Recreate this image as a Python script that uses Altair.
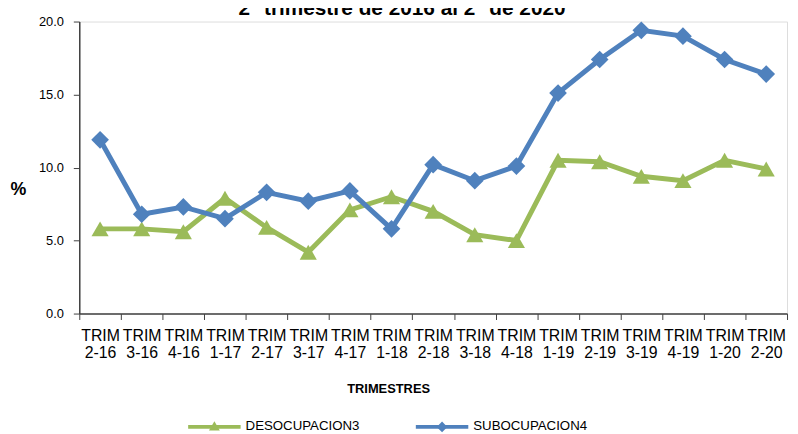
import altair as alt
import pandas as pd

categories = ["TRIM 2-16", "TRIM 3-16", "TRIM 4-16", "TRIM 1-17", "TRIM 2-17", "TRIM 3-17",
              "TRIM 4-17", "TRIM 1-18", "TRIM 2-18", "TRIM 3-18", "TRIM 4-18", "TRIM 1-19",
              "TRIM 2-19", "TRIM 3-19", "TRIM 4-19", "TRIM 1-20", "TRIM 2-20"]
desocupacion = [5.8, 5.8, 5.6, 7.9, 5.9, 4.2, 7.1, 8.0, 7.0, 5.4, 5.0, 10.5, 10.4, 9.4, 9.1, 10.5, 9.9]
subocupacion = [11.9, 6.8, 7.3, 6.5, 8.3, 7.7, 8.4, 5.8, 10.2, 9.1, 10.1, 15.1, 17.4, 19.4, 19.0, 17.4, 16.4]
series_names = ["DESOCUPACION3", "SUBOCUPACION4"]
series_colors = ["#9BBB59", "#4F81BD"]
y_ticks = [0, 5, 10, 15, 20]
title_text = "2° trimestre de 2016 al 2° de 2020"
x_title = "TRIMESTRES"
y_title = "%"

FONT = "Liberation Sans"

rows = []
for name, vals in zip(series_names, [desocupacion, subocupacion]):
    for c, v in zip(categories, vals):
        rows.append({"trim": c, "value": v, "series": name})
df = pd.DataFrame(rows)
legend_src = pd.DataFrame({"series": series_names})
title_src = pd.DataFrame({"title": [title_text]})

x_enc = alt.X(
    "trim:N",
    scale=alt.Scale(type="band", domain=categories, paddingInner=0, paddingOuter=0),
    axis=alt.Axis(
        title=x_title, labelAngle=0, labelExpr="split(datum.label, ' ')",
        labelFont=FONT, labelFontSize=16, labelLineHeight=17, labelColor="black",
        labelPadding=8, tickBand="extent", tickSize=6, tickColor="#404040",
        domainColor="#404040", domainWidth=1.5, grid=False,
        titleFont=FONT, titleFontSize=13, titleFontWeight="bold", titleColor="black",
        titleX=312, titleY=80, titleAlign="center", titleBaseline="alphabetic",
    ),
)
y_enc = alt.Y(
    "value:Q",
    scale=alt.Scale(domain=[0, 20], nice=False, zero=True),
    axis=alt.Axis(
        values=y_ticks, format=".1f", grid=False, tickSize=6, tickColor="#404040",
        domainColor="#404040", domainWidth=1.5, labelFont=FONT, labelFontSize=13,
        labelColor="black", labelPadding=10,
        title=y_title, titleAngle=0, titleFont=FONT, titleFontSize=18,
        titleFontWeight="bold", titleColor="black", titleX=-62, titleY=170,
        titleAlign="center", titleBaseline="middle",
    ),
)

base = alt.Chart(df)

layers = []
marker_shapes = ["triangle-up", "diamond"]
marker_sizes = [300, 320]
for name, col, shp, sz in zip(series_names, series_colors, marker_shapes, marker_sizes):
    sub = base.transform_filter(alt.datum.series == name)
    layers.append(sub.mark_line(color=col, strokeWidth=5).encode(x=x_enc, y=y_enc))
    layers.append(sub.mark_point(filled=True, shape=shp, size=sz, color=col, opacity=1,
                                 strokeWidth=0).encode(x=x_enc, y=y_enc))

# legend (line + marker + label), laid out below the plot
legend_sizes = [121, 115]
leg_y = 409.5
for i, (name, col, shp, lsz) in enumerate(zip(series_names, series_colors, marker_shapes, legend_sizes)):
    x0 = 110 + 230 * i
    lsub = alt.Chart(legend_src).transform_filter(alt.datum.series == name)
    layers.append(lsub.mark_rule(color=col, strokeWidth=4).encode(
        x=alt.value(x0), x2=alt.value(x0 + 53), y=alt.value(leg_y)))
    layers.append(lsub.mark_point(filled=True, shape=shp, size=lsz, color=col, opacity=1,
                                  strokeWidth=0).encode(
        x=alt.value(x0 + 26.5), y=alt.value(leg_y - (1 if shp == "triangle-up" else 0))))
    layers.append(lsub.mark_text(font=FONT, fontSize=13.4, color="black", align="left",
                                 baseline="middle").encode(
        x=alt.value(x0 + 58), y=alt.value(leg_y - 1), text="series:N"))

# chart title (cut at the top edge, as in the source)
layers.append(alt.Chart(title_src).mark_text(
    font=FONT, fontSize=21, fontWeight="bold", color="black", align="center",
    baseline="alphabetic").encode(x=alt.value(326), y=alt.value(-7), text="title:N"))

chart = alt.layer(*layers).properties(
    width=715, height=295,
    autosize=alt.AutoSizeParams(type="none"),
    padding={"left": 72, "top": 11.5, "right": 3, "bottom": 119.5},
).configure_view(stroke="#8c8c8c", strokeWidth=2).configure(background="white")

chart.save("out.html", embed_options={"renderer": "svg", "actions": False})
